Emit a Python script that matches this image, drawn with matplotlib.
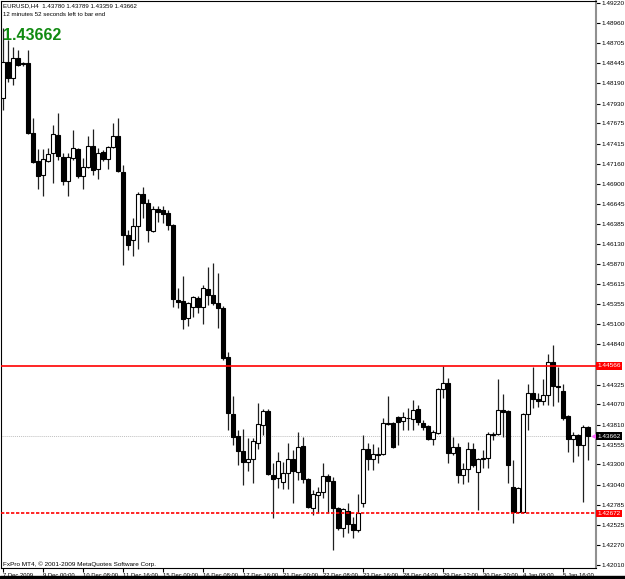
import matplotlib
matplotlib.use('Agg')
import matplotlib.pyplot as plt

plt.rcParams['font.family'] = ['Liberation Sans', 'DejaVu Sans']

# EURUSD H4 candles (bar index 0 .. 117)
opens = [1.4800, 1.4846, 1.4826, 1.4851, 1.4844, 1.4845, 1.4755, 1.4719, 1.4701, 1.4719,
         1.4730, 1.4753, 1.4724, 1.4694, 1.4723, 1.4735, 1.4700, 1.4712, 1.4739, 1.4709,
         1.4731, 1.4722, 1.4737, 1.4751, 1.4705, 1.4624, 1.4618, 1.4636, 1.4677, 1.4665,
         1.4629, 1.4658, 1.4656, 1.4653, 1.4637, 1.4541, 1.4540, 1.4518, 1.4532, 1.4543,
         1.4532, 1.4555, 1.4547, 1.4537, 1.4531, 1.4468, 1.4395, 1.4366, 1.4347, 1.4333,
         1.4337, 1.4357, 1.4381, 1.4399, 1.4316, 1.4313, 1.4307, 1.4319, 1.4337, 1.4320,
         1.4354, 1.4311, 1.4274, 1.4291, 1.4295, 1.4315, 1.4309, 1.4274, 1.4248, 1.4270,
         1.4254, 1.4246, 1.4280, 1.4350, 1.4337, 1.4342, 1.4343, 1.4382, 1.4383, 1.4391,
         1.4386, 1.4390, 1.4388, 1.4401, 1.4383, 1.4379, 1.4363, 1.4370, 1.4427, 1.4434,
         1.4345, 1.4352, 1.4316, 1.4324, 1.4350, 1.4320, 1.4337, 1.4338, 1.4368, 1.4369,
         1.4400, 1.4399, 1.4301, 1.4269, 1.4269, 1.4395, 1.4422, 1.4414, 1.4411, 1.4419,
         1.4461, 1.4431, 1.4424, 1.4392, 1.4363, 1.4368, 1.4355, 1.43780]
highs = [1.4890, 1.4875, 1.4866, 1.4862, 1.4846, 1.4862, 1.4774, 1.4735, 1.4735, 1.4736,
         1.4765, 1.4781, 1.4730, 1.4730, 1.4759, 1.4736, 1.4723, 1.4751, 1.4760, 1.4736,
         1.4733, 1.4739, 1.4768, 1.4774, 1.4714, 1.4631, 1.4646, 1.4679, 1.4686, 1.4670,
         1.4662, 1.4662, 1.4662, 1.4656, 1.4638, 1.4556, 1.4572, 1.4538, 1.4546, 1.4546,
         1.4560, 1.4583, 1.4588, 1.4576, 1.4533, 1.4474, 1.4418, 1.4374, 1.4375, 1.4364,
         1.4364, 1.4409, 1.4401, 1.4401, 1.4332, 1.4346, 1.4333, 1.4357, 1.4348, 1.4372,
         1.4365, 1.4313, 1.4297, 1.4301, 1.4332, 1.4318, 1.4314, 1.4275, 1.4274, 1.4280,
         1.4262, 1.4292, 1.4368, 1.4357, 1.4356, 1.4352, 1.4390, 1.4418, 1.4384, 1.4392,
         1.4397, 1.4402, 1.4413, 1.4406, 1.4387, 1.4381, 1.4374, 1.4428, 1.4456, 1.4441,
         1.4365, 1.4357, 1.4332, 1.4359, 1.4357, 1.4338, 1.4348, 1.4372, 1.4372, 1.4440,
         1.4420, 1.4400, 1.4336, 1.4301, 1.4396, 1.4433, 1.4455, 1.4422, 1.4440, 1.4472,
         1.4483, 1.4455, 1.4433, 1.4393, 1.4372, 1.4369, 1.4381, 1.43789]
lows = [1.4785, 1.4820, 1.4817, 1.4841, 1.4841, 1.4754, 1.4717, 1.4683, 1.4674, 1.4718,
        1.4691, 1.4721, 1.4689, 1.4674, 1.4721, 1.4697, 1.4683, 1.4710, 1.4701, 1.4696,
        1.4719, 1.4709, 1.4736, 1.4705, 1.4586, 1.4605, 1.4597, 1.4606, 1.4646, 1.4615,
        1.4628, 1.4641, 1.4640, 1.4631, 1.4532, 1.4531, 1.4504, 1.4508, 1.4519, 1.4524,
        1.4510, 1.4535, 1.4535, 1.4505, 1.4464, 1.4374, 1.4355, 1.4329, 1.4304, 1.4322,
        1.4306, 1.4350, 1.4368, 1.4316, 1.4261, 1.4300, 1.4298, 1.4298, 1.4280, 1.4310,
        1.4306, 1.4274, 1.4265, 1.4268, 1.4287, 1.4268, 1.4220, 1.4246, 1.4237, 1.4242,
        1.4236, 1.4243, 1.4275, 1.4323, 1.4323, 1.4332, 1.4342, 1.4381, 1.4351, 1.4355,
        1.4374, 1.4374, 1.4374, 1.4381, 1.4374, 1.4361, 1.4355, 1.4369, 1.4415, 1.4332,
        1.4342, 1.4306, 1.4305, 1.4307, 1.4327, 1.4272, 1.4325, 1.4325, 1.4361, 1.4368,
        1.4365, 1.4306, 1.4255, 1.4268, 1.4268, 1.4374, 1.4402, 1.4404, 1.4406, 1.4406,
        1.4405, 1.4410, 1.4387, 1.4346, 1.4333, 1.4341, 1.4282, 1.43359]
closes = [1.4846, 1.4826, 1.4851, 1.4842, 1.4845, 1.4755, 1.4718, 1.4700, 1.4722, 1.4728,
          1.4754, 1.4726, 1.4694, 1.4724, 1.4736, 1.4700, 1.4712, 1.4739, 1.4708, 1.4730,
          1.4722, 1.4737, 1.4751, 1.4706, 1.4624, 1.4612, 1.4636, 1.4677, 1.4665, 1.4631,
          1.4658, 1.4654, 1.4651, 1.4637, 1.4542, 1.4538, 1.4517, 1.4537, 1.4545, 1.4532,
          1.4556, 1.4547, 1.4537, 1.4531, 1.4466, 1.4396, 1.4365, 1.4347, 1.4333, 1.4337,
          1.4360, 1.4382, 1.4399, 1.4318, 1.4311, 1.4334, 1.4319, 1.4337, 1.4322, 1.4352,
          1.4311, 1.4275, 1.4292, 1.4295, 1.4315, 1.4309, 1.4274, 1.4248, 1.4273, 1.4254,
          1.4246, 1.4268, 1.4350, 1.4337, 1.4343, 1.4343, 1.4383, 1.4383, 1.4352, 1.4384,
          1.4391, 1.4389, 1.4400, 1.4384, 1.4378, 1.4363, 1.4372, 1.4427, 1.4434, 1.4345,
          1.4352, 1.4316, 1.4324, 1.4350, 1.4329, 1.4337, 1.4338, 1.4369, 1.4369, 1.4400,
          1.4397, 1.4329, 1.4269, 1.4300, 1.4395, 1.4422, 1.4414, 1.4411, 1.4419, 1.4461,
          1.4431, 1.4429, 1.4390, 1.4363, 1.4368, 1.4355, 1.4378, 1.43662]

date_ticks = [0, 8, 16, 24, 32, 40, 48, 56, 64, 72, 80, 88, 96, 104, 112]
date_labels = ['7 Dec 2009', '9 Dec 00:00', '10 Dec 08:00', '11 Dec 16:00', '15 Dec 00:00',
               '16 Dec 08:00', '17 Dec 16:00', '21 Dec 00:00', '22 Dec 08:00', '23 Dec 16:00',
               '28 Dec 04:00', '29 Dec 12:00', '30 Dec 20:00', '4 Jan 08:00', '5 Jan 16:00']
price_ticks = [1.49220, 1.48960, 1.48705, 1.48445, 1.48190, 1.47930, 1.47675, 1.47415,
               1.47160, 1.46900, 1.46645, 1.46385, 1.46130, 1.45870, 1.45615, 1.45355,
               1.45100, 1.44840, 1.44325, 1.44070, 1.43810, 1.43555, 1.43300, 1.43040,
               1.42785, 1.42525, 1.42270, 1.42010]
resistance = 1.44566
support = 1.42672
last_price = 1.43662

small = 4.6

fig = plt.figure(figsize=(6.25, 5.79), dpi=100)
ax = fig.add_axes([1 / 625, 11 / 579, 595 / 625, 567 / 579])
ax.set_xlim(-0.4, 118.6)
ax.set_ylim(1.41971, 1.49245)

xs = list(range(len(opens)))
ax.vlines(xs, lows, highs, color='#202020', linewidth=0.9, zorder=2)
for i in xs:
    up = closes[i] >= opens[i]
    ax.bar(i, closes[i] - opens[i], bottom=opens[i], width=0.7,
           color='white' if up else 'black', edgecolor='black',
           linewidth=0.8, zorder=3)

ax.axhline(resistance, color='red', linewidth=1.2, zorder=4)
ax.axhline(support, color='red', linewidth=1.2, linestyle=(0, (2, 1)), zorder=4)
ax.axhline(last_price, color='#c0c0c0', linewidth=0.7, linestyle=(0, (1, 1)), zorder=1)
ax.plot([118.2], [last_price], marker='<', color='#ff66ff', markersize=3,
        clip_on=False, zorder=5)

for s in ['left', 'top', 'bottom']:
    ax.spines[s].set_color('black')
    ax.spines[s].set_linewidth(0.8)
ax.spines['right'].set_color('#909090')
ax.spines['right'].set_linewidth(1.5)

ax.yaxis.tick_right()
ax.set_yticks(price_ticks)
ax.set_yticklabels(['%.5f' % p for p in price_ticks])
ax.tick_params(axis='y', direction='out', length=3, pad=1, labelsize=small, colors='black')
ax.set_xticks(date_ticks)
ax.set_xticklabels(date_labels, ha='left')
ax.tick_params(axis='x', direction='out', length=3, pad=0.5, labelsize=4.2)

for val, bg in [(resistance, 'red'), (support, 'red'), (last_price, 'black')]:
    ax.annotate('%.5f' % val, xy=(1.0, val), xycoords=('axes fraction', 'data'),
                xytext=(1.2, 0), textcoords='offset points', ha='left', va='center',
                fontsize=small, color='white', annotation_clip=False,
                bbox=dict(boxstyle='square,pad=0.2', fc=bg, ec='none'), zorder=6)

fig.text(3 / 625, 1 - 6 / 579, 'EURUSD,H4  1.43780 1.43789 1.43359 1.43662',
         fontsize=4.4, va='center', ha='left')
fig.text(3 / 625, 1 - 15 / 579, '12 minutes 52 seconds left to bar end',
         fontsize=4.4, va='center', ha='left')
fig.text(3 / 625, 1 - 36 / 579, '1.43662', fontsize=11.5, fontweight='bold',
         color='#108a10', va='center', ha='left', zorder=10)
ax.text(0.003, 1.4199, 'FxPro MT4, \u00a9 2001-2009 MetaQuotes Software Corp.',
        fontsize=small, va='bottom', ha='left', zorder=6)

fig.patches.append(plt.Rectangle((0, 0), 1, 3 / 579, transform=fig.transFigure,
                                 color='black', zorder=0))

fig.savefig('out.png', dpi=100)
